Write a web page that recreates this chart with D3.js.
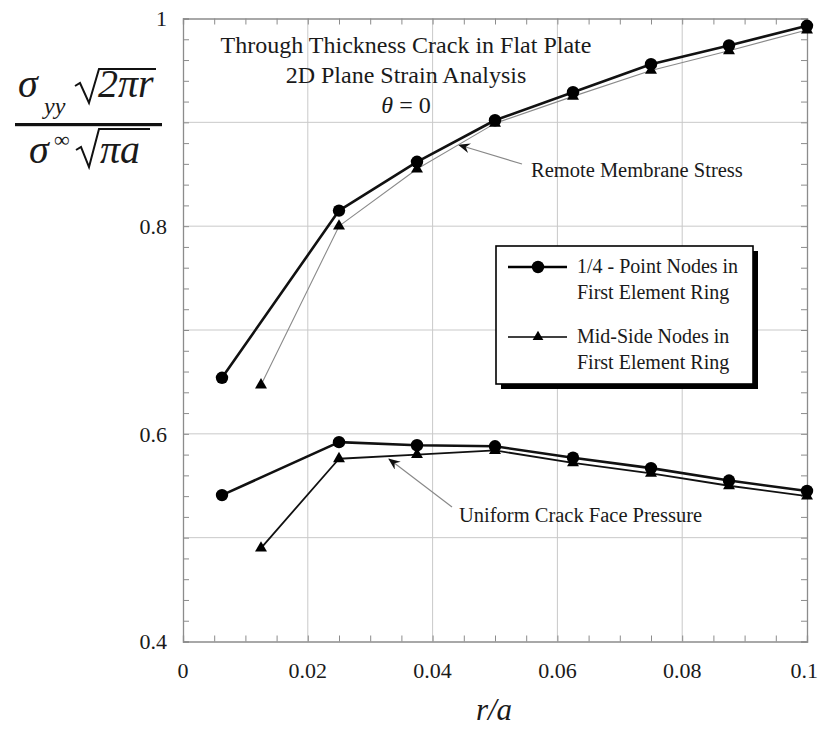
<!DOCTYPE html>
<html>
<head>
<meta charset="utf-8">
<script src="https://cdn.jsdelivr.net/npm/d3@7"></script>
<style>
  html, body { margin: 0; padding: 0; background: #fff; }
  svg { display: block; }
  text { font-family: "Liberation Serif", "Times New Roman", serif; fill: #1a1a1a; }
</style>
</head>
<body>
<svg id="chart" width="819" height="733" font-family="Liberation Serif, Times New Roman, serif"></svg>
<script>
// r/a positions of the crack-tip nodes for each mesh
const xQuarterPoint = [0.00625, 0.025, 0.0375, 0.05, 0.0625, 0.075, 0.0875, 0.1];
const xMidSide      = [0.0125,  0.025, 0.0375, 0.05, 0.0625, 0.075, 0.0875, 0.1];

// Normalised opening stress, remote membrane loading
const remoteQuarterPoint = [0.654, 0.815, 0.862, 0.902, 0.929, 0.956, 0.974, 0.993];
const remoteMidSide      = [0.647, 0.800, 0.855, 0.899, 0.925, 0.950, 0.969, 0.989];

// Normalised opening stress, uniform crack face pressure
const pressureQuarterPoint = [0.541, 0.592, 0.589, 0.588, 0.577, 0.567, 0.555, 0.545];
const pressureMidSide      = [0.490, 0.576, 0.580, 0.584, 0.572, 0.562, 0.550, 0.540];

// Axis ticks
const xTickValues = [0, 0.02, 0.04, 0.06, 0.08, 0.1];
const xTickLabels = ["0", "0.02", "0.04", "0.06", "0.08", "0.1"];
const yTickValues = [0.4, 0.6, 0.8, 1.0];
const yTickLabels = ["0.4", "0.6", "0.8", "1"];
const yGridValues = [0.5, 0.6, 0.7, 0.8, 0.9];
const xGridValues = [0.02, 0.04, 0.06, 0.08];

const titleLines = ["Through Thickness Crack in Flat Plate", "2D Plane Strain Analysis"];
const legendLabels = [["1/4 - Point Nodes in", "First Element Ring"],
                      ["Mid-Side Nodes in", "First Element Ring"]];

const svg = d3.select("#chart");
const W = 819;
const L = 183, R = 807, T = 18.5, B = 641.5;

const x = d3.scaleLinear().domain([0, 0.1]).range([L, R]);
const y = d3.scaleLinear().domain([0.4, 1.0]).range([B, T]);

// grid
const grid = svg.append("g").attr("stroke", "#c9c9c9").attr("stroke-width", 1);
grid.selectAll("line.gy").data(yGridValues).join("line")
  .attr("x1", L).attr("x2", R).attr("y1", d => y(d)).attr("y2", d => y(d));
grid.selectAll("line.gx").data(xGridValues).join("line")
  .attr("y1", T).attr("y2", B).attr("x1", d => x(d)).attr("x2", d => x(d));

// frame with inward minor ticks on all four sides
const xMinor = d3.range(0, 0.1001, 0.005);
const yMinor = d3.range(0.4, 1.0001, 0.02);
const frameColor = "#8c8c8c";
const axB = d3.axisBottom(x).tickValues(xMinor).tickSize(-6).tickFormat("");
const axT = d3.axisTop(x).tickValues(xMinor).tickSize(-6).tickFormat("");
const axLf = d3.axisLeft(y).tickValues(yMinor).tickSize(-6).tickFormat("");
const axRt = d3.axisRight(y).tickValues(yMinor).tickSize(-6).tickFormat("");
[[axB, `translate(0,${B})`], [axT, `translate(0,${T})`],
 [axLf, `translate(${L},0)`], [axRt, `translate(${R},0)`]].forEach(([ax, tr]) => {
  const g = svg.append("g").attr("transform", tr).call(ax);
  g.select(".domain").attr("stroke", frameColor).attr("stroke-width", 1.3);
  g.selectAll(".tick line").attr("stroke", frameColor).attr("stroke-width", 1);
});

// tick labels (the last one is kept inside the page edge)
svg.append("g").selectAll("text").data(xTickValues).join("text")
  .attr("x", (d, i) => i === xTickValues.length - 1 ? W - 1 : x(d)).attr("y", 678)
  .attr("text-anchor", (d, i) => i === xTickValues.length - 1 ? "end" : "middle")
  .attr("font-size", 22).text((d, i) => xTickLabels[i]);
svg.append("g").selectAll("text").data(yTickValues).join("text")
  .attr("x", 167).attr("y", d => y(d)).attr("dy", "0.35em").attr("text-anchor", "end")
  .attr("font-size", 22).text((d, i) => yTickLabels[i]);

// title block
const tx = 406;
svg.append("text").attr("x", tx).attr("y", 53).attr("text-anchor", "middle")
  .attr("font-size", 24).text(titleLines[0]);
svg.append("text").attr("x", tx).attr("y", 83).attr("text-anchor", "middle")
  .attr("font-size", 24).text(titleLines[1]);
const th = svg.append("text").attr("x", tx).attr("y", 113).attr("text-anchor", "middle")
  .attr("font-size", 24);
th.append("tspan").attr("font-style", "italic").text("θ");
th.append("tspan").text(" = 0");

// annotation arrows
const defs = svg.append("defs");
defs.append("marker").attr("id", "arrowHead")
  .attr("viewBox", "0 0 12 10").attr("refX", 11).attr("refY", 5)
  .attr("markerWidth", 12).attr("markerHeight", 10).attr("markerUnits", "userSpaceOnUse")
  .attr("orient", "auto")
  .append("path").attr("d", "M0,0 L12,5 L0,10 L4,5 Z").attr("fill", "#111");

svg.append("line").attr("x1", 522).attr("y1", 164).attr("x2", 459).attr("y2", 145)
  .attr("stroke", "#888").attr("stroke-width", 1.2).attr("marker-end", "url(#arrowHead)");
svg.append("line").attr("x1", 452).attr("y1", 507).attr("x2", 389).attr("y2", 459)
  .attr("stroke", "#888").attr("stroke-width", 1.2).attr("marker-end", "url(#arrowHead)");

svg.append("text").attr("x", 531).attr("y", 177).attr("font-size", 20.5).text("Remote Membrane Stress");
svg.append("text").attr("x", 459).attr("y", 522).attr("font-size", 20.5).text("Uniform Crack Face Pressure");

// data series
const line = d3.line().x(d => x(d[0])).y(d => y(d[1]));
const zipPts = (xs, ys) => xs.map((v, i) => [v, ys[i]]);
const series = [
  { pts: zipPts(xMidSide, remoteMidSide), stroke: "#8a8a8a", width: 1.1, marker: "tri" },
  { pts: zipPts(xMidSide, pressureMidSide), stroke: "#111", width: 1.8, marker: "tri" },
  { pts: zipPts(xQuarterPoint, remoteQuarterPoint), stroke: "#111", width: 2.6, marker: "dot" },
  { pts: zipPts(xQuarterPoint, pressureQuarterPoint), stroke: "#111", width: 2.6, marker: "dot" }
];
const triSym = d3.symbol().type(d3.symbolTriangle).size(62);
series.forEach(s => {
  svg.append("path").datum(s.pts).attr("d", line)
    .attr("fill", "none").attr("stroke", s.stroke).attr("stroke-width", s.width)
    .attr("stroke-linejoin", "round");
});
series.forEach(s => {
  const g = svg.append("g");
  if (s.marker === "dot") {
    g.selectAll("circle").data(s.pts).join("circle")
      .attr("cx", d => x(d[0])).attr("cy", d => y(d[1])).attr("r", 6.2).attr("fill", "#000");
  } else {
    g.selectAll("path").data(s.pts).join("path")
      .attr("transform", d => `translate(${x(d[0])},${y(d[1])})`)
      .attr("d", triSym).attr("fill", "#000");
  }
});

// legend box with drop shadow
const lg = { x: 496, y: 246, w: 257, h: 138 };
svg.append("rect").attr("x", lg.x + 5).attr("y", lg.y + 5).attr("width", lg.w).attr("height", lg.h)
  .attr("fill", "#000");
svg.append("rect").attr("x", lg.x).attr("y", lg.y).attr("width", lg.w).attr("height", lg.h)
  .attr("fill", "#fff").attr("stroke", "#000").attr("stroke-width", 1.6);

const legendRows = [{ cy: 267, marker: "dot", width: 2.6 }, { cy: 337, marker: "tri", width: 1.6 }];
legendRows.forEach((r, i) => {
  svg.append("line").attr("x1", 508).attr("x2", 567).attr("y1", r.cy).attr("y2", r.cy)
    .attr("stroke", "#000").attr("stroke-width", r.width);
  if (r.marker === "dot") {
    svg.append("circle").attr("cx", 538).attr("cy", r.cy).attr("r", 6.2).attr("fill", "#000");
  } else {
    svg.append("path").attr("transform", `translate(538,${r.cy})`)
      .attr("d", d3.symbol().type(d3.symbolTriangle).size(50)).attr("fill", "#000");
  }
  svg.append("text").attr("x", 577).attr("y", r.cy + 6).attr("font-size", 20).text(legendLabels[i][0]);
  svg.append("text").attr("x", 577).attr("y", r.cy + 32).attr("font-size", 20).text(legendLabels[i][1]);
});

// x-axis title
svg.append("text").attr("x", 494).attr("y", 720).attr("text-anchor", "middle")
  .attr("font-size", 31).attr("font-style", "italic").text("r/a");

// y-axis title: normalised stress fraction
const yl = svg.append("g");
yl.append("text").attr("x", 18).attr("y", 97).attr("font-size", 40).attr("font-style", "italic").text("σ");
yl.append("text").attr("x", 44).attr("y", 114).attr("font-size", 24).attr("font-style", "italic").text("yy");
yl.append("path").attr("d", "M75,86 L80,83 L89,103 L99,69 L156,69")
  .attr("fill", "none").attr("stroke", "#111").attr("stroke-width", 2);
yl.append("text").attr("x", 98).attr("y", 97).attr("font-size", 40).attr("font-style", "italic")
  .text("2πr");
yl.append("rect").attr("x", 15).attr("y", 123).attr("width", 147).attr("height", 3.2).attr("fill", "#111");
yl.append("text").attr("x", 29).attr("y", 163).attr("font-size", 40).attr("font-style", "italic").text("σ");
yl.append("text").attr("x", 54).attr("y", 147).attr("font-size", 22).text("∞");
yl.append("path").attr("d", "M76,150 L81,147 L89,167 L99,129 L150,129")
  .attr("fill", "none").attr("stroke", "#111").attr("stroke-width", 2);
yl.append("text").attr("x", 100).attr("y", 163).attr("font-size", 40).attr("font-style", "italic")
  .text("πa");
</script>
</body>
</html>
